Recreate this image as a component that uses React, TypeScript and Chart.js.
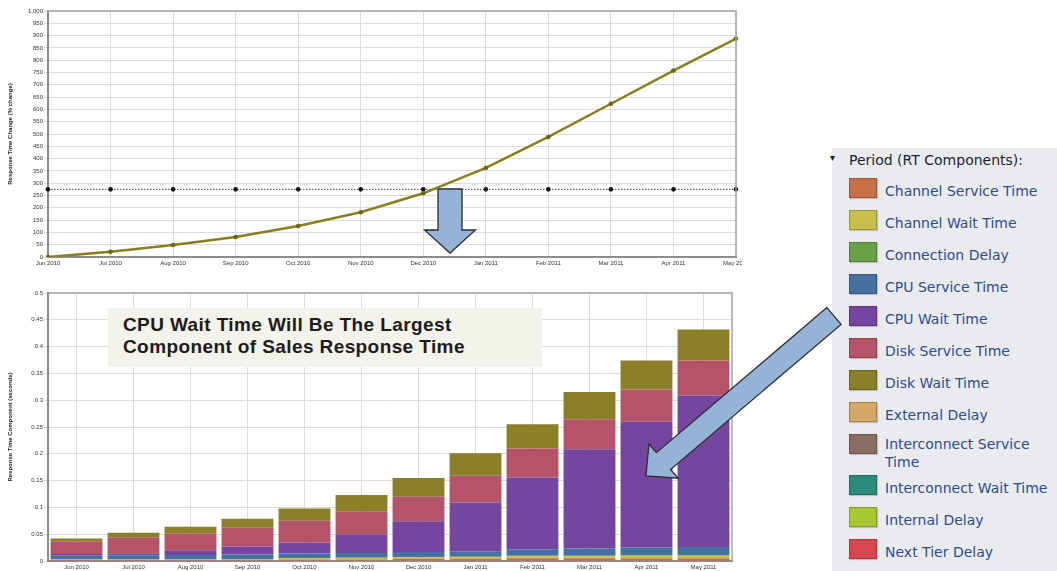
import React, { useEffect, useRef } from 'react';
import { Chart, registerables } from 'chart.js';

Chart.register(...registerables);
Chart.defaults.font.family = "'Liberation Sans', Arial, sans-serif";

// ---------- DATA ----------
const MONTHS = ['Jun 2010', 'Jul 2010', 'Aug 2010', 'Sep 2010', 'Oct 2010', 'Nov 2010', 'Dec 2010', 'Jan 2011', 'Feb 2011', 'Mar 2011', 'Apr 2011', 'May 2011'];

// top chart (% change)
const RESPONSE_CHANGE = [0, 21, 49, 81, 126, 182, 259, 362, 488, 623, 758, 888];
const THRESHOLD = [275, 275, 275, 275, 275, 275, 275, 275, 275, 275, 275, 275];
const TOP_Y_MIN = 0;
const TOP_Y_MAX = 1000;
const TOP_Y_STEP = 50;

// bottom chart (seconds)
const BOTTOM_Y_MIN = 0;
const BOTTOM_Y_MAX = 0.5;
const BOTTOM_Y_STEP = 0.05;

const COMPONENT_NAMES = ['Channel Service Time', 'Channel Wait Time', 'Connection Delay', 'CPU Service Time', 'CPU Wait Time', 'Disk Service Time', 'Disk Wait Time', 'External Delay', 'Interconnect Service Time', 'Interconnect Wait Time', 'Internal Delay', 'Next Tier Delay'];
const COMPONENT_COLORS = ['#c76f46', '#c8bf48', '#68a046', '#4670a0', '#7446a0', '#b55468', '#8a8028', '#d5a766', '#8a6d62', '#2a8a7c', '#a8c834', '#d8464e'];

const CHANNEL_SERVICE = [0.002, 0.002, 0.002, 0.002, 0.003, 0.003, 0.004, 0.004, 0.005, 0.005, 0.005, 0.005];
const CHANNEL_WAIT = [0.001, 0.001, 0.001, 0.001, 0.002, 0.003, 0.003, 0.004, 0.004, 0.004, 0.005, 0.005];
const CONNECTION_DELAY = [0, 0, 0, 0, 0, 0, 0, 0, 0.001, 0.001, 0.001, 0.001];
const CPU_SERVICE = [0.007, 0.0075, 0.008, 0.009, 0.009, 0.009, 0.01, 0.01, 0.012, 0.0135, 0.014, 0.015];
const CPU_WAIT = [0.003, 0.0037, 0.009, 0.015, 0.02, 0.035, 0.057, 0.091, 0.134, 0.185, 0.235, 0.283];
const DISK_SERVICE = [0.024, 0.03, 0.031, 0.035, 0.041, 0.043, 0.046, 0.05, 0.054, 0.056, 0.06, 0.065];
const DISK_WAIT = [0.005, 0.0087, 0.013, 0.017, 0.023, 0.03, 0.035, 0.042, 0.045, 0.051, 0.054, 0.058];
const EXTERNAL_DELAY = [0, 0, 0, 0, 0, 0, 0, 0, 0, 0, 0, 0];
const INTERCONNECT_SERVICE = [0, 0, 0, 0, 0, 0, 0, 0, 0, 0, 0, 0];
const INTERCONNECT_WAIT = [0, 0, 0, 0, 0, 0, 0, 0, 0, 0, 0, 0];
const INTERNAL_DELAY = [0, 0, 0, 0, 0, 0, 0, 0, 0, 0, 0, 0];
const NEXT_TIER_DELAY = [0, 0, 0, 0, 0, 0, 0, 0, 0, 0, 0, 0];

const COMPONENT_SERIES = [CHANNEL_SERVICE, CHANNEL_WAIT, CONNECTION_DELAY, CPU_SERVICE, CPU_WAIT, DISK_SERVICE, DISK_WAIT, EXTERNAL_DELAY, INTERCONNECT_SERVICE, INTERCONNECT_WAIT, INTERNAL_DELAY, NEXT_TIER_DELAY];

const LEGEND_TITLE = 'Period (RT Components):';
const NOTE_LINES = ['CPU Wait Time Will Be The Largest', 'Component of Sales Response Time'];
const TOP_Y_TITLE = 'Response Time Change (% change)';
const BOTTOM_Y_TITLE = 'Response Time Component (seconds)';

// ---------- STYLE ----------
const GRID = '#dcdcdc';
const AXIS = '#8c8c8c';
const FRAME = '#a4a4a4';
const TICK_FONT = { size: 6 };
const TITLE_FONT = { size: 6, weight: 'bold' as const };

const framePlugin = {
  id: 'frame',
  afterDraw(chart: any) {
    const { ctx, chartArea } = chart;
    const { left, right, top, bottom } = chartArea;
    ctx.save();
    ctx.strokeStyle = FRAME;
    ctx.lineWidth = 1.5;
    ctx.beginPath();
    ctx.moveTo(left, top);
    ctx.lineTo(right, top);
    ctx.lineTo(right, bottom);
    ctx.stroke();
    ctx.restore();
  },
};

function arrowPoints(tail: number[], tip: number[], shaftHalf: number, headHalf: number, headLen: number) {
  const dx = tip[0] - tail[0];
  const dy = tip[1] - tail[1];
  const L = Math.hypot(dx, dy);
  const ux = dx / L, uy = dy / L;
  const px = -uy, py = ux;
  const bx = tip[0] - ux * headLen, by = tip[1] - uy * headLen;
  const pts = [
    [tail[0] + px * shaftHalf, tail[1] + py * shaftHalf],
    [bx + px * shaftHalf, by + py * shaftHalf],
    [bx + px * headHalf, by + py * headHalf],
    tip,
    [bx - px * headHalf, by - py * headHalf],
    [bx - px * shaftHalf, by - py * shaftHalf],
    [tail[0] - px * shaftHalf, tail[1] - py * shaftHalf],
  ];
  return pts.map((p) => p[0].toFixed(1) + ',' + p[1].toFixed(1)).join(' ');
}

export default function App() {
  const topRef = useRef<HTMLCanvasElement | null>(null);
  const bottomRef = useRef<HTMLCanvasElement | null>(null);

  useEffect(() => {
    const topChart = new Chart(topRef.current as HTMLCanvasElement, {
      type: 'line',
      data: {
        labels: MONTHS,
        datasets: [
          {
            label: 'Response Time Change',
            data: RESPONSE_CHANGE,
            borderColor: '#8a7e1e',
            borderWidth: 2.5,
            pointRadius: 2.3,
            pointBackgroundColor: '#6f6512',
            pointBorderWidth: 0,
            tension: 0,
          },
          {
            label: 'Threshold',
            data: THRESHOLD,
            borderColor: '#444',
            borderWidth: 1,
            borderDash: [1.5, 1.5],
            pointRadius: 2.3,
            pointBackgroundColor: '#111',
            pointBorderWidth: 0,
          },
        ],
      },
      options: {
        animation: false,
        responsive: false,
        layout: { padding: { top: 11, right: 6, left: 0, bottom: 0 } },
        plugins: { legend: { display: false }, tooltip: { enabled: false } },
        scales: {
          x: {
            offset: false,
            grid: { color: GRID, drawTicks: false },
            border: { color: AXIS, width: 2 },
            ticks: { font: TICK_FONT, color: '#333', padding: 3, maxRotation: 0, autoSkip: false },
            afterFit(s: any) {
              s.height = 15;
              s.paddingLeft = 0;
              s.paddingRight = 0;
            },
          },
          y: {
            min: TOP_Y_MIN,
            max: TOP_Y_MAX,
            ticks: {
              stepSize: TOP_Y_STEP,
              font: TICK_FONT,
              color: '#333',
              padding: 1,
              callback: (v: any) => Number(v).toLocaleString('en-US'),
            },
            grid: { color: GRID, tickLength: 4 },
            border: { color: AXIS, width: 2 },
            title: { display: true, text: TOP_Y_TITLE, font: TITLE_FONT, color: '#222', padding: { top: 7, bottom: 0 } },
            afterFit(s: any) {
              s.width = 48;
              s.paddingTop = 0;
              s.paddingBottom = 0;
            },
          },
        },
      },
      plugins: [framePlugin],
    } as any);

    const bottomChart = new Chart(bottomRef.current as HTMLCanvasElement, {
      type: 'bar',
      data: {
        labels: MONTHS,
        datasets: COMPONENT_NAMES.map((name, i) => ({
          label: name,
          data: COMPONENT_SERIES[i],
          backgroundColor: COMPONENT_COLORS[i],
          borderWidth: 0,
          barPercentage: 0.91,
          categoryPercentage: 1,
        })),
      },
      options: {
        animation: false,
        responsive: false,
        layout: { padding: { top: 13, right: 10, left: 0, bottom: 0 } },
        plugins: { legend: { display: false }, tooltip: { enabled: false } },
        scales: {
          x: {
            stacked: true,
            offset: true,
            grid: { color: GRID, drawTicks: false, offset: false },
            border: { color: AXIS, width: 2 },
            ticks: { font: TICK_FONT, color: '#333', padding: 3, maxRotation: 0, autoSkip: false },
            afterFit(s: any) {
              s.height = 10;
              s.paddingLeft = 0;
              s.paddingRight = 0;
            },
          },
          y: {
            stacked: true,
            min: BOTTOM_Y_MIN,
            max: BOTTOM_Y_MAX,
            ticks: {
              stepSize: BOTTOM_Y_STEP,
              font: TICK_FONT,
              color: '#333',
              padding: 1,
              callback: (v: any) => String(Number(Number(v).toFixed(2))),
            },
            grid: { color: GRID, tickLength: 4 },
            border: { color: AXIS, width: 2 },
            title: { display: true, text: BOTTOM_Y_TITLE, font: TITLE_FONT, color: '#222', padding: { top: 7, bottom: 0 } },
            afterFit(s: any) {
              s.width = 48;
              s.paddingTop = 0;
              s.paddingBottom = 0;
            },
          },
        },
      },
      plugins: [framePlugin],
    } as any);

    return () => {
      topChart.destroy();
      bottomChart.destroy();
    };
  }, []);

  const legendTop = 178;
  let y = legendTop;
  const rows = COMPONENT_NAMES.map((name, i) => {
    const wrapped = name.length > 22;
    const top = y;
    y += wrapped ? 41 : 32;
    return (
      <div key={name} style={{ position: 'absolute', left: 17, top: top - 148, display: 'flex', alignItems: 'flex-start' }}>
        <div
          style={{
            width: 28,
            height: 20,
            background: COMPONENT_COLORS[i],
            boxSizing: 'border-box',
            border: '1px solid rgba(0,0,0,0.22)',
            boxShadow: '1px 1px 1px rgba(0,0,0,0.18)',
            flex: 'none',
          }}
        />
        <div style={{ marginLeft: 8, width: 168, lineHeight: '18px', marginTop: wrapped ? 1 : 4, fontSize: 14, color: '#2f4c8c' }}>{name}</div>
      </div>
    );
  });

  const downArrow = arrowPoints([450, 189], [450, 253], 12, 25.5, 23);
  const diagArrow = arrowPoints([834, 316], [646, 476], 11, 22.5, 23);

  return (
    <div style={{ position: 'absolute', left: 0, top: 0, width: 1057, height: 571, overflow: 'hidden', background: '#fff', fontFamily: "'DejaVu Sans', sans-serif" }}>
      <canvas ref={topRef} width={742} height={272} style={{ position: 'absolute', left: 0, top: 0, width: 742, height: 272 }} />
      <canvas ref={bottomRef} width={742} height={291} style={{ position: 'absolute', left: 0, top: 280, width: 742, height: 291 }} />

      <div
        style={{
          position: 'absolute',
          left: 108,
          top: 308,
          width: 434,
          height: 59,
          background: '#f3f2eb',
          boxSizing: 'border-box',
          paddingLeft: 15,
          paddingTop: 6,
          fontFamily: "'Liberation Sans', Arial, sans-serif",
          fontWeight: 'bold',
          fontSize: 19,
          lineHeight: '22px',
          letterSpacing: 0.4,
          color: '#1c1c1c',
          whiteSpace: 'nowrap',
        }}
      >
        {NOTE_LINES.map((l) => (
          <div key={l}>{l}</div>
        ))}
      </div>

      <div style={{ position: 'absolute', left: 832, top: 148, width: 225, height: 423, background: '#e9ebef' }}>
        <div style={{ position: 'absolute', left: -2, top: 4, fontSize: 10, color: '#222' }}>▾</div>
        <div style={{ position: 'absolute', left: 17, top: 3, fontSize: 14, lineHeight: '18px', color: '#1e1e30', whiteSpace: 'nowrap' }}>{LEGEND_TITLE}</div>
        {rows}
      </div>

      <svg width={1057} height={571} style={{ position: 'absolute', left: 0, top: 0, pointerEvents: 'none' }}>
        <polygon points={downArrow} fill="#95b3d7" stroke="#2e2e2e" strokeWidth={1.3} strokeLinejoin="miter" />
        <polygon points={diagArrow} fill="#95b3d7" stroke="#2e2e2e" strokeWidth={1.3} strokeLinejoin="miter" />
      </svg>
    </div>
  );
}
